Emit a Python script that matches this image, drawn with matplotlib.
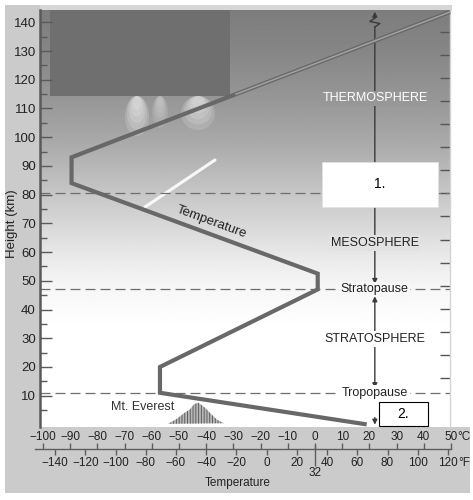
import numpy as np
import matplotlib
matplotlib.use('Agg')
import matplotlib.pyplot as plt
from matplotlib.patches import Rectangle, Ellipse, Polygon
from matplotlib.ticker import NullFormatter

plt.rcParams['font.family'] = ['Liberation Sans', 'DejaVu Sans']
plt.rcParams['hatch.linewidth'] = 0.7

# ---------------- data ----------------
heights_km = [0, 11, 20, 47, 52.5, 84, 93, 143.6]
temps_c = [19, -57, -57, 1, 1, -89.5, -89.5, 49.6]
boundary_km = [11, 47, 80.5]
celsius_ticks = list(range(-100, 51, 10))
fahrenheit_ticks = list(range(-140, 121, 20))
height_ticks = list(range(10, 141, 10))
height_minor = list(range(5, 140, 10))
mile_ticks = list(range(10, 86, 5))
layer_labels = ["THERMOSPHERE", "MESOSPHERE", "Stratopause", "STRATOSPHERE", "Tropopause"]
layer_heights = [113.6, 63.2, 47, 29.7, 11]
layer_colors = ["white", "#222222", "#222222", "#222222", "#222222"]
arrow_temp = 22
everest_km = 8.8

# background gradient (height km -> gray level)
grad_km = [0, 36, 48, 58, 68, 82, 98, 114, 130, 146]
grad_lvl = [255, 254, 246, 234, 218, 196, 170, 150, 134, 124]

# ---------------- layout ----------------
W, H = 473, 500
fig = plt.figure(figsize=(W / 100, H / 100), dpi=100)
bg = fig.add_axes([0, 0, 1, 1])
bg.set_xlim(0, W); bg.set_ylim(H, 0); bg.axis('off')
frame = '#cbcbcb'
bg.add_patch(Rectangle((5, 5), 447, 6, color='#d6d6d6', lw=0))
bg.add_patch(Rectangle((5, 5), 35, 488, color=frame, lw=0))
bg.add_patch(Rectangle((5, 427), 465, 66, color=frame, lw=0))


def fig_rect(x0, y0, x1, y1):
    return [x0 / W, 1 - y1 / H, (x1 - x0) / W, (y1 - y0) / H]


PX0C, PXPERC = 315.0, 2.72
PXKM0, PXPERKM = 424.4, 2.872


def px2c(px):
    return (px - PX0C) / PXPERC


def py2km(py):
    return (PXKM0 - py) / PXPERKM


ax = fig.add_axes(fig_rect(40, 10, 450, 427))
x0, x1 = px2c(40), px2c(450)
y0, y1 = py2km(427), py2km(10)
ax.set_xlim(x0, x1); ax.set_ylim(y0, y1)


def gray_at(h):
    return float(np.interp(h, grad_km, grad_lvl)) / 255


yy = np.linspace(y0, y1, 500)
g = np.interp(yy, grad_km, grad_lvl) / 255
img = np.repeat(g[:, None], 2, axis=1)
ax.imshow(img, cmap='gray', vmin=0, vmax=1, extent=[x0, x1, y0, y1], origin='lower',
          aspect='auto', interpolation='bilinear', zorder=0)

# dark overlay rectangle at top-left
ax.add_patch(Rectangle((px2c(50), py2km(96)), px2c(230) - px2c(50), py2km(10) - py2km(96),
                       color='#6f6f6f', lw=0, zorder=1))
# soft aurora glow streaks and meteor streak
for cx, cw, ch, a in [(137, 24, 40, 0.16), (160, 16, 32, 0.09), (198, 34, 34, 0.15)]:
    for k in np.linspace(1.0, 0.35, 5):
        ax.add_patch(Ellipse((px2c(cx), py2km(96 + ch * k / 2)), cw * k / PXPERC,
                             ch * k / PXPERKM, color='white', alpha=a, lw=0, zorder=1))
ax.plot([px2c(145), px2c(215)], [py2km(207), py2km(160)], color='white', lw=2.2,
        alpha=0.9, solid_capstyle='round', zorder=1.5)

# spines and ticks
for s in ['top', 'bottom']:
    ax.spines[s].set_visible(False)
ax.spines['left'].set_color('#5a5a5a'); ax.spines['left'].set_linewidth(1.8)
ax.spines['right'].set_color('#d4d4d4'); ax.spines['right'].set_linewidth(1)
ax.set_xticks([])
ax.set_yticks(height_ticks)
ax.set_yticks(height_minor, minor=True)
ax.tick_params(axis='y', which='major', direction='in', length=8.5, width=1,
               color='#5a5a5a', labelsize=9.5, pad=3, labelcolor='#222222')
ax.tick_params(axis='y', which='minor', direction='in', length=5, width=1, color='#5a5a5a')
ax.text((12 - 40) / 410, (427 - 224) / 417, 'Height (km)', transform=ax.transAxes,
        rotation=90, ha='center', va='center', fontsize=9.5, color='#222222')

sec = ax.secondary_yaxis('right', functions=(lambda k: k / 1.609344, lambda m: m * 1.609344))
sec.set_yticks(mile_ticks)
sec.yaxis.set_major_formatter(NullFormatter())
sec.tick_params(direction='in', length=7, width=1, color='#555555')
sec.spines['right'].set_visible(False)

# boundary dashed lines
for h in boundary_km:
    ax.axhline(h, color='#6e6e6e', lw=0.9, dashes=(8, 4), zorder=2)

# temperature profile
ax.plot(temps_c, heights_km, color='#686868', lw=3, solid_joinstyle='miter',
        solid_capstyle='butt', zorder=4, clip_on=False)
t115 = float(np.interp(115, heights_km[-2:], temps_c[-2:]))
ax.plot([t115, temps_c[-1]], [115, heights_km[-1]], color='#a2a2a2', lw=1.1, zorder=4.5,
        clip_on=False)

# rotated "Temperature" label along the mesosphere segment
p1 = ax.transData.transform((temps_c[5], heights_km[5]))
p2 = ax.transData.transform((temps_c[4], heights_km[4]))
ang = np.degrees(np.arctan2(p2[1] - p1[1], p2[0] - p1[0]))
ax.text(-38, 70.5, 'Temperature', rotation=ang, ha='center', va='center', fontsize=9.5,
        color='#222222', zorder=5, rotation_mode='anchor')

# vertical arrows
ak = dict(color='#3a3a3a', lw=1, mutation_scale=7, shrinkA=0, shrinkB=0)
ax.annotate('', xy=(arrow_temp, 143.7), xytext=(arrow_temp, 141.3),
            arrowprops=dict(arrowstyle='-|>', **ak), zorder=5, annotation_clip=False)
axp = PX0C + arrow_temp * PXPERC
zz_x = [axp, axp - 5, axp + 5, axp]
zz_y = [18, 21.5, 23.5, 27]
ax.plot([px2c(v) for v in zz_x], [py2km(v) for v in zz_y], color='#3a3a3a', lw=1, zorder=5)
ax.annotate('', xy=(arrow_temp, 48.9), xytext=(arrow_temp, py2km(27)),
            arrowprops=dict(arrowstyle='-|>', **ak), zorder=3)
ax.annotate('', xy=(arrow_temp, 44.6), xytext=(arrow_temp, 12.6),
            arrowprops=dict(arrowstyle='<|-|>', **ak), zorder=3)
ax.annotate('', xy=(arrow_temp, -0.1), xytext=(arrow_temp, 2.4),
            arrowprops=dict(arrowstyle='-|>', **ak), zorder=3, annotation_clip=False)

for lab, h, c in zip(layer_labels, layer_heights, layer_colors):
    gv = gray_at(h)
    ax.text(arrow_temp, h, lab, ha='center', va='center', fontsize=9, color=c, zorder=4,
            bbox=dict(facecolor=(gv, gv, gv), edgecolor='none', pad=1.2))

# answer boxes
ax.add_patch(Rectangle((px2c(321.7), py2km(207.3)), (438.3 - 321.7) / PXPERC,
                       (207.3 - 161.7) / PXPERKM, facecolor='white', edgecolor='#e2e2e2',
                       lw=0.5, zorder=6))
ax.text(px2c(380), py2km(184.5), '1.', ha='center', va='center', fontsize=10, zorder=7)
ax.add_patch(Rectangle((px2c(379), py2km(425.7)), (428 - 379) / PXPERC,
                       (425.7 - 401.7) / PXPERKM, facecolor='white', edgecolor='black',
                       lw=0.8, zorder=6, clip_on=False))
ax.text(px2c(403.5), py2km(413.7), '2.', ha='center', va='center', fontsize=10, zorder=7)

# Mt. Everest
ax.text(-63.2, 5.9, 'Mt. Everest', ha='center', va='center', fontsize=9, color='#333333',
        zorder=4)
mt = Polygon([(-54, 0.2), (-51, 1.8), (-48, 4.0), (-46, 5.2), (-44.5, 7.0), (-43, 7.6),
              (-41.5, 6.6), (-40, 5.4), (-38, 3.4), (-36, 1.6), (-33.5, 0.4)],
             closed=True, facecolor='#b8b8b8', edgecolor='#5e5e5e', hatch='||||||', lw=0,
             zorder=3)
ax.add_patch(mt)

# ---------------- bottom temperature scale ----------------
axb = fig.add_axes(fig_rect(5, 427, 470, 493))
axb.set_xlim(px2c(5), px2c(470)); axb.set_ylim(493, 427)
axb.axis('off')
lc = '#5e5e5e'
axb.plot([px2c(35), celsius_ticks[-1]], [449, 449], color=lc, lw=1)
axb.vlines(celsius_ticks, 443, 449, color=lc, lw=1)
f_in_c = [(f - 32) * 5 / 9 for f in fahrenheit_ticks]
axb.vlines(f_in_c, 449, 455, color=lc, lw=1)
axb.vlines((32 - 32) * 5 / 9, 445, 466, color=lc, lw=1)

tk = dict(fontsize=8.5, color='#222222', va='center')
for c in celsius_ticks:
    t = axb.text(c, 436.7, str(c).replace('-', '\u2212'), ha='center', **tk)
axb.annotate('°C', xy=(1, 0.5), xycoords=t, ha='left', va='center', fontsize=8.5,
             color='#222222')
for f, fc in zip(fahrenheit_ticks, f_in_c):
    t = axb.text(fc, 462.7, str(f).replace('-', '\u2212'), ha='center', **tk)
axb.annotate('°F', xy=(1, 0.5), xycoords=t, ha='left', va='center', fontsize=8.5,
             color='#222222')
axb.text(0, 473.3, '32', ha='center', **tk)
axb.text(px2c(237.5), 483, 'Temperature', ha='center', fontsize=8.5, color='#222222',
         va='center')

fig.savefig('out.png', dpi=100)
